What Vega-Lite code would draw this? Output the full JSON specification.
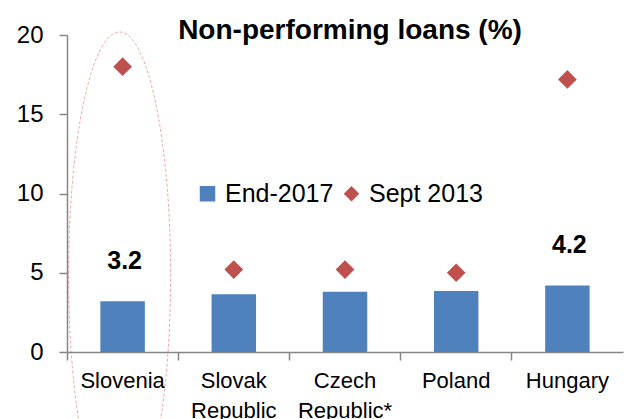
{
  "$schema": "https://vega.github.io/schema/vega-lite/v6.json",
  "autosize": {"type": "none"},
  "width": 556,
  "height": 317,
  "padding": {"left": 67, "top": 35, "right": 1, "bottom": 67},
  "background": "white",
  "title": {
    "text": "Non-performing loans (%)",
    "font": "Liberation Sans",
    "fontSize": 28,
    "fontWeight": "bold",
    "color": "black",
    "anchor": "middle",
    "frame": "group",
    "offset": -22,
    "dx": 5
  },
  "config": {
    "view": {"stroke": null},
    "font": "Liberation Sans",
    "axis": {"labelFont": "Liberation Sans", "labelColor": "black", "domainColor": "#868686", "tickColor": "#868686", "domainWidth": 1.5, "tickWidth": 1.5, "grid": false, "title": null}
  },
  "data": {
    "values": [
      {"country": "Slovenia", "series": "End-2017", "value": 3.2},
      {"country": "Slovak Republic", "series": "End-2017", "value": 3.65},
      {"country": "Czech Republic*", "series": "End-2017", "value": 3.8},
      {"country": "Poland", "series": "End-2017", "value": 3.85},
      {"country": "Hungary", "series": "End-2017", "value": 4.2},
      {"country": "Slovenia", "series": "Sept 2013", "value": 18.0},
      {"country": "Slovak Republic", "series": "Sept 2013", "value": 5.2},
      {"country": "Czech Republic*", "series": "Sept 2013", "value": 5.2},
      {"country": "Poland", "series": "Sept 2013", "value": 5.0},
      {"country": "Hungary", "series": "Sept 2013", "value": 17.2}
    ]
  },
  "encoding": {
    "x": {
      "field": "country",
      "type": "nominal",
      "sort": ["Slovenia", "Slovak Republic", "Czech Republic*", "Poland", "Hungary"],
      "scale": {"paddingInner": 0, "paddingOuter": 0},
      "axis": {"labelAngle": 0, "labelFontSize": 22, "labelExpr": "split(datum.label, ' ')", "labelLineHeight": 30, "labelPadding": 10, "tickSize": 8, "bandPosition": 0, "labelBaseline": "top"}
    },
    "y": {
      "field": "value",
      "type": "quantitative",
      "scale": {"domain": [0, 20], "nice": false},
      "axis": {"values": [0, 5, 10, 15, 20], "labelFontSize": 24, "tickSize": 8, "labelPadding": 16}
    }
  },
  "layer": [
    {
      "transform": [{"filter": "datum.series == 'End-2017'"}],
      "mark": {"type": "bar", "width": {"band": 0.4}},
      "encoding": {
        "color": {"field": "series", "type": "nominal", "scale": {"domain": ["End-2017", "Sept 2013"], "range": ["#4F81BD", "#C0504D"]},
          "legend": {"orient": "none", "legendX": 128, "legendY": 146, "direction": "horizontal", "title": null, "labelFontSize": 25, "labelFont": "Liberation Sans", "labelColor": "black", "symbolSize": 240, "symbolOpacity": 1, "labelOffset": 5, "columnPadding": 5}}
      }
    },
    {
      "transform": [{"filter": "datum.series == 'Sept 2013'"}],
      "mark": {"type": "point", "filled": true, "opacity": 1, "size": 350},
      "encoding": {
        "color": {"field": "series", "type": "nominal"},
        "shape": {"field": "series", "type": "nominal", "scale": {"domain": ["End-2017", "Sept 2013"], "range": ["square", "diamond"]}}
      }
    },
    {
      "transform": [{"filter": "datum.series == 'End-2017'"}, {"filter": {"field": "country", "oneOf": ["Slovenia", "Hungary"]}}],
      "mark": {"type": "text", "fontSize": 25, "fontWeight": "bold", "color": "black", "baseline": "middle", "dy": -40, "dx": 2},
      "encoding": {"text": {"field": "value", "type": "quantitative", "format": ".1f"}}
    },
    {
      "transform": [{"filter": "datum.series == 'End-2017'"}, {"filter": {"field": "country", "equal": "Slovenia"}}],
      "mark": {"type": "point", "filled": false, "stroke": "#E06666", "strokeWidth": 0.8, "strokeDash": [3, 2], "xOffset": -3, "size": 236196, "shape": "M 0 -1 C 0.116 -1 0.21 -0.5523 0.21 0 C 0.21 0.5523 0.116 1 0 1 C -0.116 1 -0.21 0.5523 -0.21 0 C -0.21 -0.5523 -0.116 -1 0 -1 Z"},
      "encoding": {"y": {"datum": 4.86, "type": "quantitative"}}
    }
  ]
}
